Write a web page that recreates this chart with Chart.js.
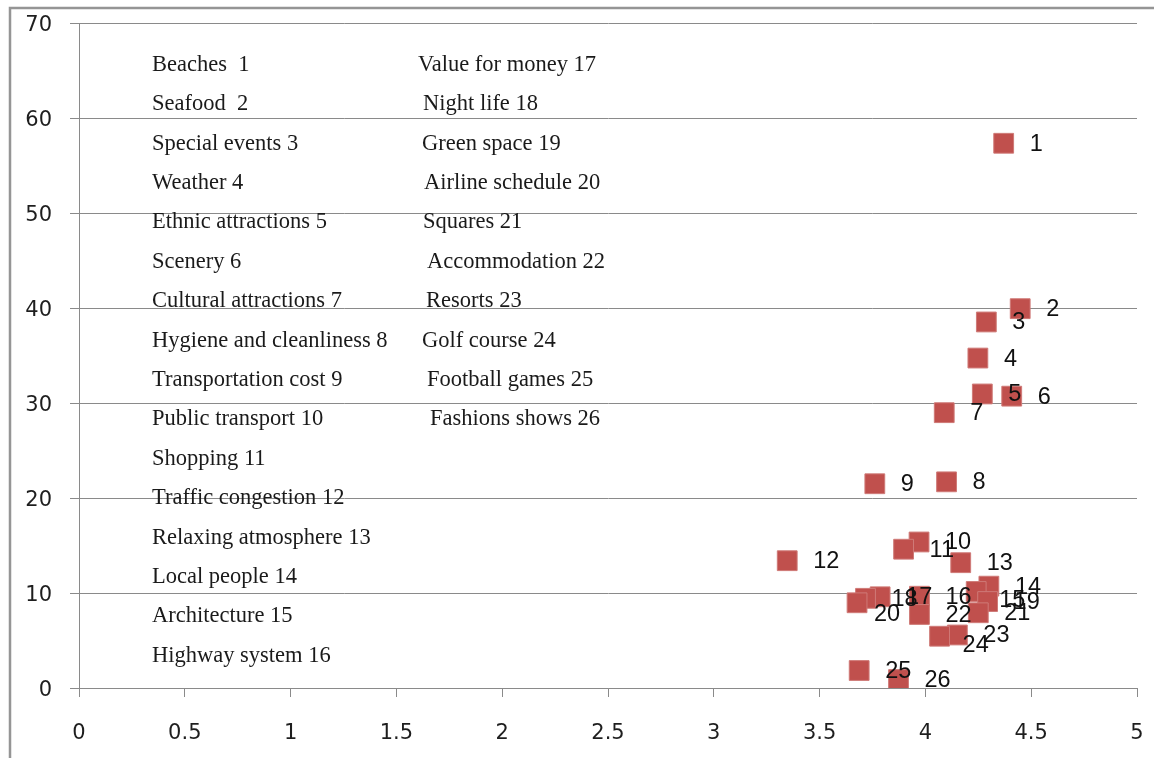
<!DOCTYPE html>
<html>
<head>
<meta charset="utf-8">
<script src="https://cdn.jsdelivr.net/npm/chart.js@4/dist/chart.umd.min.js"></script>
<style>
  html, body { margin: 0; padding: 0; background: #fff; }
  #wrap { position: relative; width: 1154px; height: 758px; }
</style>
</head>
<body>
<div id="wrap"><canvas id="c" width="1154" height="758"></canvas></div>
<script>
// Destination attributes, numbered 1..26
const attributes = [
  "Beaches ", "Seafood ", "Special events", "Weather", "Ethnic attractions",
  "Scenery", "Cultural attractions", "Hygiene and cleanliness", "Transportation cost",
  "Public transport", "Shopping", "Traffic congestion", "Relaxing atmosphere",
  "Local people", "Architecture", "Highway system", "Value for money", "Night life",
  "Green space", "Airline schedule", "Squares", "Accommodation", "Resorts",
  "Golf course", "Football games", "Fashions shows"
];
const ids = [1,2,3,4,5,6,7,8,9,10,11,12,13,14,15,16,17,18,19,20,21,22,23,24,25,26];

// Mean rating (x) and frequency of mention (y) for each attribute
const meanRating = [4.37, 4.448, 4.288, 4.248, 4.269, 4.408, 4.089, 4.10, 3.761, 3.97,
                    3.897, 3.347, 4.167, 4.30, 4.24, 3.972, 3.786, 3.717, 4.294, 3.677,
                    4.25, 3.972, 4.151, 4.067, 3.687, 3.873];
const frequency  = [57.34, 39.93, 38.53, 34.73, 30.95, 30.72, 28.98, 21.7, 21.5, 15.37,
                    14.61, 13.4, 13.19, 10.72, 10.16, 9.66, 9.6, 9.44, 9.1, 8.97,
                    7.92, 7.74, 5.58, 5.45, 1.84, 0.89];

const xTicks = [0, 0.5, 1, 1.5, 2, 2.5, 3, 3.5, 4, 4.5, 5];
const yTicks = [0, 10, 20, 30, 40, 50, 60, 70];

const GRID = '#8a8a8a';
const TICK_FONT = { family: '"DejaVu Sans", sans-serif', size: 21 };

// Outer frame (top and left edges)
const framePlugin = {
  id: 'frame',
  beforeDraw(chart) {
    const ctx = chart.ctx;
    ctx.save();
    ctx.strokeStyle = '#959595';
    ctx.lineWidth = 2.5;
    ctx.beginPath();
    ctx.moveTo(10, 760);
    ctx.lineTo(10, 8);
    ctx.lineTo(1160, 8);
    ctx.stroke();
    ctx.restore();
  }
};

// Key listing attribute names with their numbers, in two columns
const keyPlugin = {
  id: 'key',
  afterDraw(chart) {
    const ctx = chart.ctx;
    ctx.save();
    ctx.font = '22.5px "Liberation Serif", serif';
    ctx.fillStyle = '#1a1a1a';
    ctx.textAlign = 'left';
    ctx.textBaseline = 'alphabetic';
    const firstBase = 70.7, step = 39.4;
    const col2x = [418, 423, 422, 424, 423, 427, 426, 422, 427, 430];
    attributes.forEach((name, i) => {
      const label = name + ' ' + ids[i];
      if (i < 16) {
        ctx.fillText(label, 152, firstBase + i * step);
      } else {
        const j = i - 16;
        ctx.fillText(label, col2x[j], firstBase + j * step);
      }
    });
    ctx.restore();
  }
};

// Number beside each marker
const pointLabelPlugin = {
  id: 'pointLabels',
  afterDatasetsDraw(chart) {
    const ctx = chart.ctx;
    const meta = chart.getDatasetMeta(0);
    const nudge = { 15: [-3, 8], 20: [-9, 11], 24: [-3, 8] };
    ctx.save();
    ctx.font = '23.5px "Liberation Sans", sans-serif';
    ctx.fillStyle = '#111';
    ctx.textAlign = 'left';
    ctx.textBaseline = 'middle';
    meta.data.forEach((pt, i) => {
      const n = ids[i];
      const d = nudge[n] || [0, 0];
      ctx.fillText(String(n), pt.x + 26 + d[0], pt.y + 1 + d[1]);
    });
    ctx.restore();
  }
};

new Chart(document.getElementById('c'), {
  type: 'scatter',
  data: {
    datasets: [{
      data: meanRating.map((x, i) => ({ x: x, y: frequency[i] })),
      pointStyle: 'rect',
      pointRadius: 14,
      pointHoverRadius: 14,
      backgroundColor: '#C0504D',
      borderColor: '#cf7a77',
      borderWidth: 1
    }]
  },
  options: {
    responsive: false,
    animation: false,
    events: [],
    layout: { padding: { left: 0, right: 17, top: 23, bottom: 0 } },
    plugins: { legend: { display: false }, tooltip: { enabled: false } },
    scales: {
      x: {
        type: 'linear',
        min: 0, max: 5,
        afterBuildTicks(scale) { scale.ticks = xTicks.map(v => ({ value: v })); },
        afterFit(scale) { scale.height = 70; scale.paddingLeft = 0; scale.paddingRight = 0; },
        grid: { display: true, drawOnChartArea: false, drawTicks: true, tickLength: 9, color: GRID, lineWidth: 1 },
        border: { display: true, color: GRID, width: 1 },
        ticks: {
          padding: 24,
          color: '#1e1e1e',
          font: TICK_FONT,
          callback: v => String(v)
        }
      },
      y: {
        type: 'linear',
        min: 0, max: 70,
        afterBuildTicks(scale) { scale.ticks = yTicks.map(v => ({ value: v })); },
        afterFit(scale) { scale.width = 79; scale.paddingTop = 0; scale.paddingBottom = 0; },
        grid: { display: true, drawOnChartArea: true, drawTicks: true, tickLength: 9, color: GRID, lineWidth: 1 },
        border: { display: true, color: GRID, width: 1 },
        ticks: {
          padding: 18,
          labelOffset: 3,
          color: '#1e1e1e',
          font: TICK_FONT,
          callback: v => String(v)
        }
      }
    }
  },
  plugins: [framePlugin, keyPlugin, pointLabelPlugin]
});
</script>
</body>
</html>
